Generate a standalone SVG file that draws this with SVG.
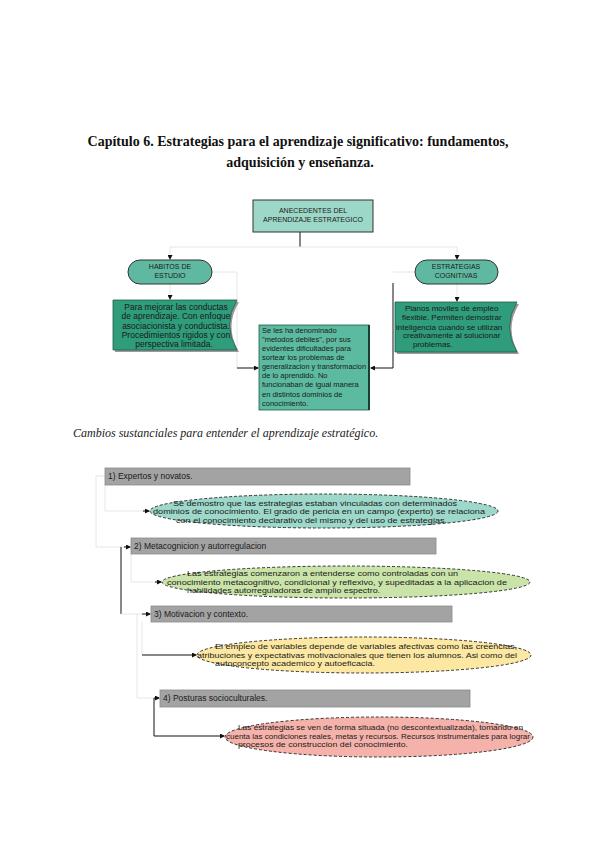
<svg xmlns="http://www.w3.org/2000/svg" width="600" height="848" viewBox="0 0 600 848">
<style>
.title{font-family:"Liberation Serif","Times New Roman",serif;font-weight:bold;font-size:14px;fill:#111}
.cap{font-family:"Liberation Serif","Times New Roman",serif;font-style:italic;font-size:12px;fill:#222}
.s{font-family:"Liberation Sans",Arial,sans-serif;fill:#1a1a1a}
.t7{font-size:7px}
.t75{font-size:7.5px}
.t8{font-size:8px}
.t85{font-size:8.5px}
.e{font-size:7.4px}
.faint{stroke:#e6e6e6;stroke-width:1;fill:none}
.dark{stroke:#111;stroke-width:1;fill:none}
.bar{fill:#a3a3a3;stroke:#8a8a8a;stroke-width:0.8}
.ell{stroke:#333;stroke-width:1;stroke-dasharray:3 2}
</style>
<defs>
<marker id="ah" markerWidth="5" markerHeight="5" refX="4" refY="2.5" orient="auto" markerUnits="userSpaceOnUse">
<path d="M0,0 L5,2.5 L0,5 Z" fill="#111"/>
</marker>
</defs>
<rect width="600" height="848" fill="#fff"/>

<text class="title" x="298" y="146" text-anchor="middle">Capítulo 6. Estrategias para el aprendizaje significativo: fundamentos,</text>
<text class="title" x="300" y="167" text-anchor="middle">adquisición y enseñanza.</text>

<g id="connectors-top">
<line class="dark" x1="300" y1="232" x2="300" y2="247"/>
<line class="faint" x1="170" y1="247" x2="457" y2="247"/>
<line class="faint" x1="170" y1="247" x2="170" y2="259" marker-end="url(#ah)"/>
<line class="faint" x1="457" y1="247" x2="457" y2="259" marker-end="url(#ah)"/>
<line class="faint" x1="170" y1="284" x2="170" y2="299" marker-end="url(#ah)"/>
<line class="faint" x1="457" y1="284" x2="457" y2="301" marker-end="url(#ah)"/>
<polyline class="faint" points="212,272 237,272 237,368"/>
<line class="dark" x1="237" y1="368" x2="258" y2="368" marker-end="url(#ah)"/>
<line class="faint" x1="415" y1="272" x2="393" y2="272"/>
<polyline class="dark" points="393,283 393,368 371,368" marker-end="url(#ah)"/>
</g>

<g id="antecedentes">
<rect x="253" y="200" width="120" height="32" fill="#9dd7c8" stroke="#333" stroke-width="1"/>
<text class="s t7" x="313" y="213" text-anchor="middle">ANECEDENTES DEL</text>
<text class="s t7" x="313" y="222" text-anchor="middle">APRENDIZAJE ESTRATEGICO</text>
</g>

<g id="habitos">
<rect x="128" y="260" width="84" height="24" rx="12" fill="#5fb9a0" stroke="#333" stroke-width="1"/>
<text class="s t7" x="170" y="269" text-anchor="middle">HABITOS DE</text>
<text class="s t7" x="170" y="278" text-anchor="middle">ESTUDIO</text>
</g>

<g id="estrategias">
<rect x="415" y="260" width="83" height="24" rx="12" fill="#5fb9a0" stroke="#333" stroke-width="1"/>
<text class="s t7" x="456" y="269" text-anchor="middle">ESTRATEGIAS</text>
<text class="s t7" x="456" y="278" text-anchor="middle">COGNITIVAS</text>
</g>

<g id="habitos-desc">
<path d="M115,302 H239 Q224,327 239,352 H115 Z" fill="#9a9a9a"/>
<path d="M113,300 H237 Q222,325 237,350 H113 Z" fill="#2f9c7b" stroke="#1d5c48" stroke-width="0.8"/>
<text class="s t85" x="176" y="310" text-anchor="middle">Para mejorar las conductas</text>
<text class="s t85" x="176" y="319" text-anchor="middle">de aprendizaje. Con enfoque</text>
<text class="s t85" x="176" y="329" text-anchor="middle">asociacionista y conductista.</text>
<text class="s t85" x="176" y="338" text-anchor="middle">Procedimientos rigidos y con</text>
<text class="s t85" x="174" y="347" text-anchor="middle">perspectiva limitada.</text>
</g>

<g id="estrategias-desc">
<path d="M397,304 H519 Q504,329 519,354 H397 Z" fill="#9a9a9a"/>
<path d="M395,302 H517 Q502,327 517,352 H395 Z" fill="#2f9c7b" stroke="#1d5c48" stroke-width="0.8"/>
<text class="s t8" x="405" y="311">Planos moviles de empleo</text>
<text class="s t8" x="402" y="320">flexible. Permiten demostrar</text>
<text class="s t8" x="396" y="330">inteligencia cuando se utilizan</text>
<text class="s t8" x="403" y="338">creativamente al solucionar</text>
<text class="s t8" x="413" y="347">problemas.</text>
</g>

<g id="metodos">
<rect x="259" y="325" width="110" height="85" fill="#5cbaa0" stroke="#1d5c48" stroke-width="0.8"/>
<line x1="369" y1="325" x2="369" y2="410" stroke="#14402f" stroke-width="2"/>
<text class="s t75" x="262" y="333">Se les ha denominado</text>
<text class="s t75" x="262" y="342">"metodos debiles", por sus</text>
<text class="s t75" x="262" y="351">evidentes dificultades para</text>
<text class="s t75" x="262" y="360">sortear los problemas de</text>
<text class="s t75" x="262" y="369" textLength="104" lengthAdjust="spacingAndGlyphs">generalizacion y transformacion</text>
<text class="s t75" x="262" y="378">de lo aprendido. No</text>
<text class="s t75" x="262" y="387">funcionaban de igual manera</text>
<text class="s t75" x="262" y="397">en distintos dominios de</text>
<text class="s t75" x="262" y="406">conocimiento.</text>
</g>

<text class="cap" x="73" y="437">Cambios sustanciales para entender el aprendizaje estratégico.</text>

<g id="connectors-bottom">
<polyline class="faint" points="105,476 96,476 96,547 130,547" />
<line class="dark" x1="124" y1="547" x2="130" y2="547" marker-end="url(#ah)"/>
<polyline class="faint" points="105,485 105,511 149,511"/>
<line class="dark" x1="143" y1="511" x2="149" y2="511" marker-end="url(#ah)"/>
<line class="dark" x1="121" y1="547" x2="121" y2="614"/>
<polyline class="faint" points="121,614 142,614"/>
<line class="dark" x1="142" y1="614" x2="150" y2="614" marker-end="url(#ah)"/>
<polyline class="faint" points="131,554 131,582 161,582"/>
<line class="dark" x1="155" y1="582" x2="161" y2="582" marker-end="url(#ah)"/>
<polyline class="faint" points="142,622 142,655"/>
<line class="dark" x1="142" y1="655" x2="196" y2="655" marker-end="url(#ah)"/>
<polyline class="faint" points="137,614 137,698 154,698"/>
<line class="dark" x1="154" y1="698" x2="159" y2="698" marker-end="url(#ah)"/>
<polyline class="dark" points="154,698 154,736 224,736" marker-end="url(#ah)"/>
</g>

<g id="bar1">
<rect class="bar" x="105" y="468" width="305" height="17"/>
<text class="s t85" x="108" y="479">1) Expertos y novatos.</text>
</g>
<g id="ellipse1">
<ellipse class="ell" cx="324" cy="511" rx="174" ry="17" fill="#9dd8ca"/>
<text class="s e" x="173" y="505.5" textLength="284" lengthAdjust="spacingAndGlyphs">Se demostro que las estrategias estaban vinculadas con determinados</text>
<text class="s e" x="153" y="514" textLength="332" lengthAdjust="spacingAndGlyphs">dominios de conocimiento. El grado de pericia en un campo (experto) se relaciona</text>
<text class="s e" x="176" y="522.5" textLength="271" lengthAdjust="spacingAndGlyphs">con el conocimiento declarativo del mismo y del uso de estrategias.</text>
</g>

<g id="bar2">
<rect class="bar" x="131" y="538" width="305" height="16"/>
<text class="s t85" x="134" y="549">2) Metacognicion y autorregulacion</text>
</g>
<g id="ellipse2">
<ellipse class="ell" cx="346" cy="582" rx="184" ry="16" fill="#c9e3a8"/>
<text class="s e" x="187" y="576" textLength="271" lengthAdjust="spacingAndGlyphs">Las estrategias comenzaron a entenderse como controladas con un</text>
<text class="s e" x="167" y="584.5" textLength="340" lengthAdjust="spacingAndGlyphs">conocimiento metacognitivo, condicional y reflexivo, y supeditadas a la aplicacion de</text>
<text class="s e" x="187" y="593" textLength="193" lengthAdjust="spacingAndGlyphs">habilidades autorreguladoras de amplio espectro.</text>
</g>

<g id="bar3">
<rect class="bar" x="151" y="606" width="301" height="16" stroke="#222"/>
<text class="s t85" x="154" y="617">3) Motivacion y contexto.</text>
</g>
<g id="ellipse3">
<ellipse class="ell" cx="364" cy="655" rx="167" ry="18" fill="#fce8a2"/>
<text class="s e" x="215" y="649" textLength="302" lengthAdjust="spacingAndGlyphs">El empleo de variables depende de variables afectivas como las creencias,</text>
<text class="s e" x="197" y="657.5" textLength="320" lengthAdjust="spacingAndGlyphs">atribuciones y expectativas motivacionales que tienen los alumnos. Asi como del</text>
<text class="s e" x="215" y="666" textLength="160" lengthAdjust="spacingAndGlyphs">autoconcepto academico y autoeficacia.</text>
</g>

<g id="bar4">
<rect class="bar" x="160" y="690" width="310" height="17" stroke="#222"/>
<text class="s t85" x="163" y="701">4) Posturas socioculturales.</text>
</g>
<g id="ellipse4">
<ellipse class="ell" cx="379" cy="737" rx="154" ry="20" fill="#f5b2aa"/>
<text class="s e" x="238" y="730" textLength="285" lengthAdjust="spacingAndGlyphs">Las estrategias se ven de forma situada (no descontextualizada), tomando en</text>
<text class="s e" x="226" y="738.5" textLength="304" lengthAdjust="spacingAndGlyphs">cuenta las condiciones reales, metas y recursos. Recursos instrumentales para lograr</text>
<text class="s e" x="238" y="747" textLength="170" lengthAdjust="spacingAndGlyphs">procesos de construccion del conocimiento.</text>
</g>
</svg>
